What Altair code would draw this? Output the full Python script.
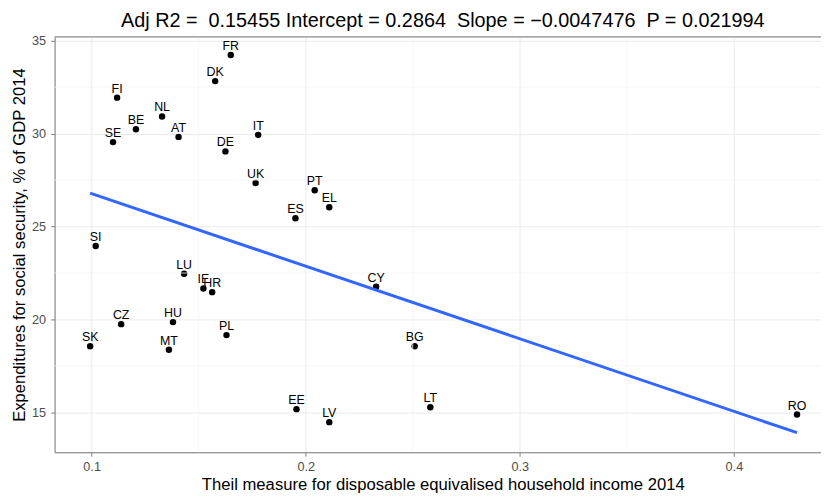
import altair as alt
import pandas as pd

countries = ["FR", "DK", "FI", "NL", "BE", "AT", "SE", "IT", "DE", "UK",
             "PT", "EL", "ES", "SI", "LU", "IE", "HR", "CZ", "HU", "PL",
             "SK", "MT", "EE", "LV", "CY", "BG", "LT", "RO"]
theil = [0.1650, 0.1577, 0.1119, 0.1329, 0.1207, 0.1406, 0.1100, 0.1778, 0.1625, 0.1766,
         0.2042, 0.2110, 0.1952, 0.1019, 0.1432, 0.1522, 0.1563, 0.1138, 0.1380, 0.1630,
         0.0993, 0.1361, 0.1957, 0.2110, 0.2329, 0.2509, 0.2582, 0.4295]
expend = [34.22, 32.82, 31.93, 30.92, 30.23, 29.82, 29.54, 29.93, 29.04, 27.34,
          26.95, 26.04, 25.44, 23.95, 22.46, 21.67, 21.47, 19.75, 19.86, 19.16,
          18.56, 18.37, 15.18, 14.48, 21.76, 18.56, 15.28, 14.89]

x_ticks = [0.1, 0.2, 0.3, 0.4]
y_ticks = [15, 20, 25, 30, 35]
x_minor = [0.15, 0.25, 0.35]
y_minor = [17.5, 22.5, 27.5, 32.5]

NB = "\u00a0"
title_text = ("Adj R2 =" + NB + " 0.15455 Intercept = 0.2864" + NB + " Slope = \u22120.0047476"
              + NB + " P = 0.021994")
x_title = "Theil measure for disposable equivalised household income 2014"
y_title = "Expenditures for social security, % of GDP 2014"

FONT = "Liberation Sans"

df = pd.DataFrame({"country": countries, "theil": theil, "expend": expend})

xs = alt.Scale(domain=[0.0827, 0.4407], nice=False, zero=False)
ys = alt.Scale(domain=[12.86, 35.2], nice=False, zero=False)

axis_common = dict(
    domainColor="#808080", tickColor="#808080", tickSize=4,
    labelColor="#4D4D4D", labelFontSize=12.8, labelFont=FONT,
    titleFontSize=16.8, titleFont=FONT, titleFontWeight="normal", titleColor="black",
    gridColor="#EBEBEB", gridWidth=1,
)

xaxis = alt.Axis(values=x_ticks, format=".1f", title=x_title, labelPadding=4,
                 titlePadding=4, titleX=391.5, **axis_common)
yaxis = alt.Axis(values=y_ticks, format="d", title=y_title, labelPadding=5,
                 titlePadding=3, **axis_common)

base = alt.Chart(df)

points = base.mark_circle(color="black", opacity=1, size=42).encode(
    x=alt.X("theil:Q", scale=xs, axis=xaxis),
    y=alt.Y("expend:Q", scale=ys, axis=yaxis),
)

minor_x = alt.Chart(pd.DataFrame({"theil": x_minor})).mark_rule(
    color="#F4F4F4", strokeWidth=0.8
).encode(x=alt.X("theil:Q", scale=xs, axis=xaxis))

minor_y = alt.Chart(pd.DataFrame({"expend": y_minor})).mark_rule(
    color="#F4F4F4", strokeWidth=0.8
).encode(y=alt.Y("expend:Q", scale=ys, axis=yaxis))

top_border = alt.Chart(pd.DataFrame({"v": [0]})).mark_rule(
    color="#808080", strokeWidth=1
).encode(y=alt.value(0))

reg = base.transform_regression("theil", "expend").mark_line(
    color="#3366FF", strokeWidth=3
).encode(
    x=alt.X("theil:Q", scale=xs, axis=xaxis),
    y=alt.Y("expend:Q", scale=ys, axis=yaxis),
)

labels = base.mark_text(
    dy=-5, baseline="alphabetic", align="center", fontSize=12.5, font=FONT, color="black"
).encode(
    x=alt.X("theil:Q", scale=xs, axis=xaxis),
    y=alt.Y("expend:Q", scale=ys, axis=yaxis),
    text="country:N",
)

chart = alt.layer(points, minor_x, minor_y, top_border, reg, labels).properties(
    width=773,
    height=419,
    autosize=alt.AutoSizeParams(type="none"),
    padding={"left": 47, "top": 27, "right": 0, "bottom": 40},
    title=alt.TitleParams(
        text=title_text, fontSize=20, font=FONT, fontWeight="normal",
        anchor="middle", frame="group", offset=4, dx=5, color="black",
    ),
).configure_view(stroke=None).configure(background="white")

chart.save("out.html", embed_options={"renderer": "svg", "actions": False})
